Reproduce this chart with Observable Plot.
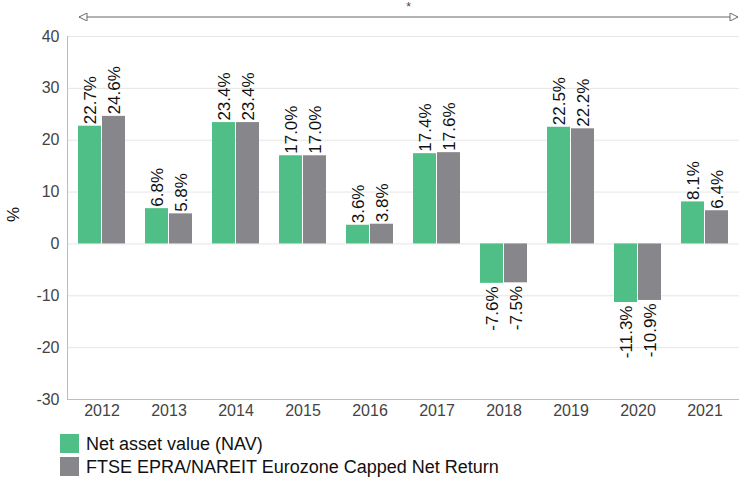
<!DOCTYPE html>
<html>
<head>
<meta charset="utf-8">
<script src="https://cdn.jsdelivr.net/npm/d3@7"></script>
<script src="https://cdn.jsdelivr.net/npm/@observablehq/plot@0.6"></script>
<style>
  body { margin: 0; background: #fff; font-family: "Liberation Sans", Arial, sans-serif; }
  #chart { position: relative; width: 739px; }
  .legend { margin-left: 60px; margin-top: 4px; }
  .legend .row { display: flex; align-items: center; height: 23px; font-size: 18px; line-height: 20px; color: #111; }
  .legend .sw { width: 19px; height: 19px; margin-right: 7px; }
</style>
</head>
<body>
<div id="chart"></div>
<script>
const years = ["2012","2013","2014","2015","2016","2017","2018","2019","2020","2021"];
const navValues = [22.7, 6.8, 23.4, 17.0, 3.6, 17.4, -7.6, 22.5, -11.3, 8.1];
const ftseValues = [24.6, 5.8, 23.4, 17.0, 3.8, 17.6, -7.5, 22.2, -10.9, 6.4];
const seriesNames = ["Net asset value (NAV)", "FTSE EPRA/NAREIT Eurozone Capped Net Return"];
const seriesColors = ["#50be87", "#87878b"];
const yTicks = [-30, -20, -10, 0, 10, 20, 30, 40];

const nav = years.map((y, i) => ({year: y, value: navValues[i]}));
const ftse = years.map((y, i) => ({year: y, value: ftseValues[i]}));
const fmt = d => d.value.toFixed(1) + "%";

const W = 739, H = 428, ML = 67, MT = 36, MB = 29;

function labels(data, dx) {
  return [
    Plot.text(data.filter(d => d.value >= 0), {x: "year", y: "value", text: fmt, rotate: -90, textAnchor: "start", dx, dy: -2, fontSize: 17, fill: "#111"}),
    Plot.text(data.filter(d => d.value < 0), {x: "year", y: "value", text: fmt, rotate: -90, textAnchor: "end", dx, dy: 3, fontSize: 17, fill: "#111"})
  ];
}

const plot = Plot.plot({
  width: W, height: H,
  marginLeft: ML, marginRight: 0, marginTop: MT, marginBottom: MB,
  style: {fontFamily: "Liberation Sans, Arial, sans-serif", fontSize: "16px", color: "#444", background: "#fff"},
  x: {type: "band", domain: years, paddingInner: 0.3, paddingOuter: 0.15, label: null, tickSize: 0, tickPadding: 5},
  y: {domain: [-30, 40], ticks: yTicks, tickSize: 0, tickPadding: 8, label: null, tickFormat: d => String(d)},
  marks: [
    Plot.ruleY(yTicks.filter(t => t > -30), {stroke: "#e6e6e6"}),
    Plot.barY(nav, {x: "year", y: "value", fill: seriesColors[0], insetRight: 24}),
    Plot.barY(ftse, {x: "year", y: "value", fill: seriesColors[1], insetLeft: 24}),
    ...labels(nav, -11.5),
    ...labels(ftse, 12.5),
    Plot.ruleY([-30], {stroke: "#bdbdbd"})
  ]
});

const svg = d3.select(plot);
const ys = plot.scale("y");
const xs = plot.scale("x");
svg.append("line").attr("x1", ML + 0.5).attr("x2", ML + 0.5)
  .attr("y1", ys.apply(40)).attr("y2", ys.apply(-30)).attr("stroke", "#bdbdbd");

// y axis title
svg.append("text").attr("transform", `translate(19,${(ys.apply(40) + ys.apply(-30)) / 2 - 3}) rotate(-90)`)
  .attr("text-anchor", "middle").attr("font-size", 17).attr("fill", "#111").text("%");

const defs = svg.append("defs");
["s", "e"].forEach(k => {
  defs.append("marker").attr("id", "arr" + k).attr("viewBox", "0 0 10 10")
    .attr("refX", k === "e" ? 10 : 0).attr("refY", 5).attr("markerWidth", 12).attr("markerHeight", 8)
    .attr("markerUnits", "userSpaceOnUse").attr("orient", "auto")
    .append("path").attr("d", k === "e" ? "M0,0L10,5L0,10Z" : "M10,0L0,5L10,10Z")
    .attr("fill", "#fff").attr("stroke", "#666").attr("stroke-width", 1.2);
});
const ax1 = xs.apply(years[0]) + 1, ax2 = W - 1;
const ay = 17;
svg.append("line").attr("x1", ax1).attr("x2", ax2).attr("y1", ay).attr("y2", ay)
  .attr("stroke", "#666").attr("stroke-width", 1)
  .attr("marker-start", "url(#arrs)").attr("marker-end", "url(#arre)");
svg.append("text").attr("x", (ax1 + ax2) / 2).attr("y", 11).attr("text-anchor", "middle")
  .attr("font-size", 12).attr("fill", "#444").text("*");

document.getElementById("chart").appendChild(plot);

const leg = document.createElement("div");
leg.className = "legend";
seriesNames.forEach((n, i) => {
  const r = document.createElement("div"); r.className = "row";
  const s = document.createElement("div"); s.className = "sw"; s.style.background = seriesColors[i];
  const t = document.createElement("span"); t.textContent = n;
  r.appendChild(s); r.appendChild(t); leg.appendChild(r);
});
document.getElementById("chart").appendChild(leg);
</script>
</body>
</html>
